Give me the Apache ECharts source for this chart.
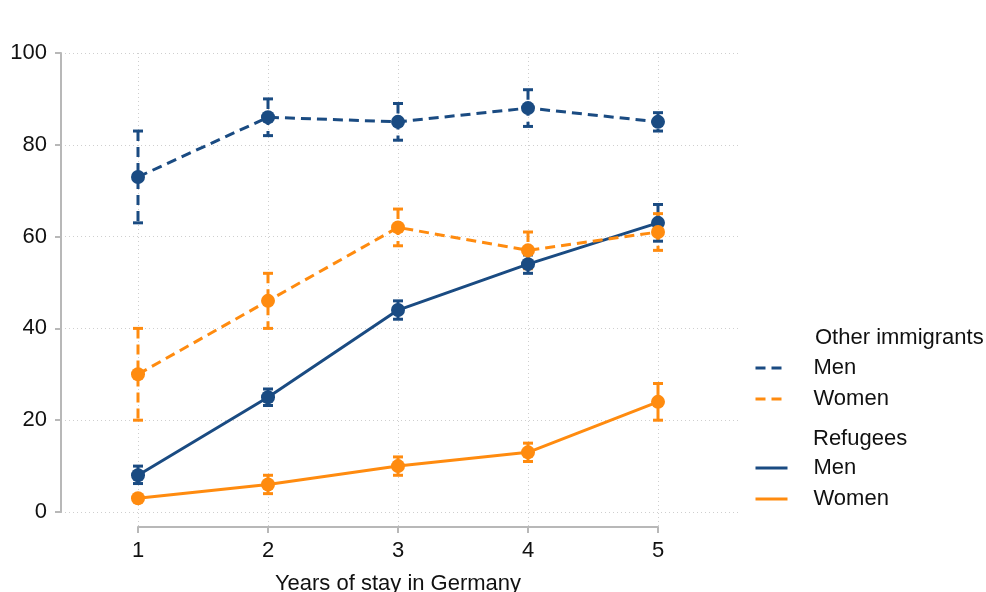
<!DOCTYPE html>
<html>
<head>
<meta charset="utf-8">
<script src="https://cdn.jsdelivr.net/npm/echarts@6/dist/echarts.min.js"></script>
<style>
html,body{margin:0;padding:0;background:#fff;}
#chart{width:986px;height:592px;}
</style>
</head>
<body>
<div id="chart"></div>
<script>
// ---- Data ----
const years = [1, 2, 3, 4, 5];
const yTicks = [0, 20, 40, 60, 80, 100];

const otherMen      = [73, 86, 85, 88, 85];
const otherMenLo    = [63, 82, 81, 84, 83];
const otherMenHi    = [83, 90, 89, 92, 87];

const otherWomen    = [30, 46, 62, 57, 61];
const otherWomenLo  = [20, 40, 58, 53, 57];
const otherWomenHi  = [40, 52, 66, 61, 65];

const refMen        = [8, 25, 44, 54, 63];
const refMenLo      = [6.2, 23.2, 42, 52, 59];
const refMenHi      = [10, 26.8, 46, 56, 67];

const refWomen      = [3, 6, 10, 13, 24];
const refWomenLo    = [2.4, 4, 8, 11, 20];
const refWomenHi    = [3.6, 8, 12, 15, 28];

const groupTitles = ['Other immigrants', 'Refugees'];
const xTitle = 'Years of stay in Germany';

// ---- Styles ----
const BLUE = '#1a4b82';
const ORANGE = '#ff8b0f';
const FONT = "'Liberation Sans', Arial, Helvetica, sans-serif";
const FS = 22;
const DASH = [10, 6];

function lineSeries(name, vals, color, dashed) {
  return {
    name: name,
    type: 'line',
    xAxisIndex: 0, yAxisIndex: 0,
    data: years.map((x, i) => [x, vals[i]]),
    symbol: 'circle',
    symbolSize: 14,
    itemStyle: { color: color },
    lineStyle: { color: color, width: 3, type: dashed ? DASH : 'solid' },
    emphasis: { disabled: true },
    animation: false,
    z: 3
  };
}

function ciSeries(name, lo, hi, color, dashed) {
  return {
    name: name + ' CI',
    type: 'custom',
    xAxisIndex: 0, yAxisIndex: 0,
    data: years.map((x, i) => [x, lo[i], hi[i]]),
    encode: { x: 0, y: [1, 2] },
    renderItem: function (params, api) {
      const x = api.value(0);
      const pLo = api.coord([x, api.value(1)]);
      const pHi = api.coord([x, api.value(2)]);
      const cap = 5;
      const st = { stroke: color, lineWidth: 3, fill: null };
      return {
        type: 'group',
        children: [
          { type: 'line', shape: { x1: pHi[0], y1: pHi[1], x2: pLo[0], y2: pLo[1] },
            style: Object.assign({}, st, dashed ? { lineDash: DASH } : {}) },
          { type: 'line', shape: { x1: pHi[0] - cap, y1: pHi[1], x2: pHi[0] + cap, y2: pHi[1] }, style: st },
          { type: 'line', shape: { x1: pLo[0] - cap, y1: pLo[1], x2: pLo[0] + cap, y2: pLo[1] }, style: st }
        ]
      };
    },
    animation: false,
    silent: true,
    z: 3
  };
}

const nOM = groupTitles[0] + ' Men', nOW = groupTitles[0] + ' Women';
const nRM = groupTitles[1] + ' Men', nRW = groupTitles[1] + ' Women';

const legendCommon = {
  orient: 'vertical',
  padding: 0,
  itemWidth: 32,
  itemHeight: 14,
  itemGap: 9,
  left: 754,
  selectedMode: false,
  icon: 'inherit',
  itemStyle: { opacity: 0 },
  lineStyle: { width: 3 },
  textStyle: { fontFamily: FONT, fontSize: FS, color: '#111', lineHeight: 22, padding: [0, 0, 0, 21] },
  formatter: function (n) { return n.split(' ').pop(); }
};

const option = {
  backgroundColor: '#fff',
  animation: false,
  grid: [
    { left: 61, top: 53, width: 679, height: 459, containLabel: false, outerBoundsMode: 'none' },
    { left: 138, top: 53, width: 520, height: 474, containLabel: false, outerBoundsMode: 'none' }
  ],
  xAxis: [
    { gridIndex: 0, type: 'value', min: 1 - 77 / 130, max: 5 + 82 / 130, show: false },
    { gridIndex: 1, type: 'value', min: 1, max: 5, interval: 1,
      axisLine: { show: true, onZero: false, lineStyle: { color: '#b8b8b8', width: 2 } },
      axisTick: { show: true, length: 6, lineStyle: { color: '#b8b8b8', width: 2 } },
      axisLabel: { fontFamily: FONT, fontSize: FS, color: '#111', margin: 13 },
      splitLine: { show: true, lineStyle: { color: '#cfcfcf', width: 1, type: [1, 3] } },
      name: xTitle, nameLocation: 'middle', nameGap: 46,
      nameTextStyle: { fontFamily: FONT, fontSize: FS, color: '#111' }
    }
  ],
  yAxis: [
    { gridIndex: 0, type: 'value', min: 0, max: 100, interval: 20,
      axisLine: { show: true, lineStyle: { color: '#b8b8b8', width: 2 } },
      axisTick: { show: true, length: 6, lineStyle: { color: '#b8b8b8', width: 2 } },
      axisLabel: { fontFamily: FONT, fontSize: FS, color: '#111', margin: 14,
        formatter: function (v) { return yTicks.indexOf(v) >= 0 ? String(v) : ''; } },
      splitLine: { show: true, lineStyle: { color: '#cfcfcf', width: 1, type: [1, 3] } }
    },
    { gridIndex: 1, type: 'value', min: 0, max: 100, show: false }
  ],
  legend: [
    Object.assign({}, legendCommon, { top: 357, data: [nOM, nOW] }),
    Object.assign({}, legendCommon, { top: 457, data: [nRM, nRW] })
  ],
  graphic: [
    { type: 'text', left: 815, top: 327, style: { text: groupTitles[0], font: FS + 'px ' + FONT, fill: '#111' } },
    { type: 'text', left: 813, top: 428, style: { text: groupTitles[1], font: FS + 'px ' + FONT, fill: '#111' } }
  ],
  series: [
    ciSeries(nRM, refMenLo, refMenHi, BLUE, false),
    lineSeries(nRM, refMen, BLUE, false),
    ciSeries(nRW, refWomenLo, refWomenHi, ORANGE, false),
    lineSeries(nRW, refWomen, ORANGE, false),
    ciSeries(nOM, otherMenLo, otherMenHi, BLUE, true),
    lineSeries(nOM, otherMen, BLUE, true),
    ciSeries(nOW, otherWomenLo, otherWomenHi, ORANGE, true),
    lineSeries(nOW, otherWomen, ORANGE, true)
  ]
};

const chart = echarts.init(document.getElementById('chart'), null, { renderer: 'canvas' });
chart.setOption(option);
</script>
</body>
</html>
